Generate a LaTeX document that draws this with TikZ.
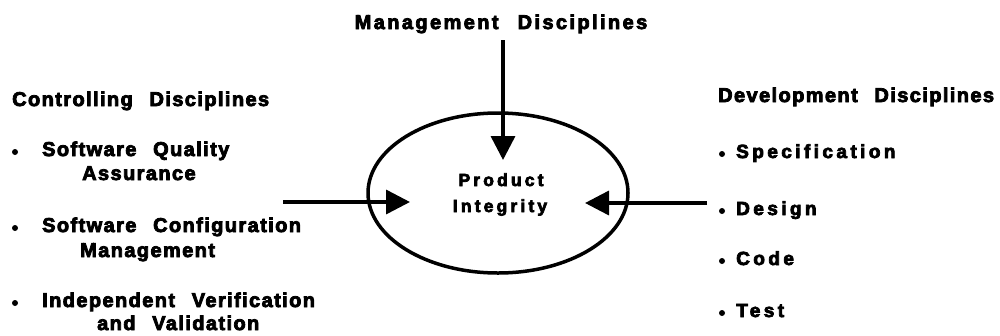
\documentclass[tikz,border=0pt]{standalone}
\usepackage{fontspec}
\setmainfont{Liberation Sans Bold}[LetterSpace=7, WordSpace=2.4, FakeBold=4]
\newfontfamily\mgmtfont{Liberation Sans Bold}[LetterSpace=12, WordSpace=2.4, FakeBold=4]
\newfontfamily\widefont{Liberation Sans Bold}[LetterSpace=18, WordSpace=2, FakeBold=4]
\usetikzlibrary{arrows.meta,shapes.geometric}
\tikzset{
  txt/.style={anchor=base west, inner sep=0pt, font=\fontsize{20}{22}\selectfont},
  wtxt/.style={anchor=base west, inner sep=0pt, font=\fontsize{19}{22}\selectfont\widefont},
  ctxt/.style={anchor=base, inner sep=0pt, font=\fontsize{17.5}{20}\selectfont\widefont},
  dot/.style={circle, fill=black, inner sep=0pt, minimum size=6pt},
  arr/.style={line width=3.5pt, -{Triangle[length=24pt,width=24pt]}},
}
\begin{document}
\begin{tikzpicture}[x=1pt,y=-1pt]
\useasboundingbox (0,0) rectangle (1000,335);
% ellipse
\node[draw, line width=3.5pt, ellipse, minimum width=260pt, minimum height=160pt, inner sep=0pt] (core) at (498,193) {};
\node[ctxt] (prod) at (501,186) {Product};
\node[ctxt] (integ) at (500,212) {Integrity};
% management
\node[anchor=base, inner sep=0pt, font=\fontsize{20}{22}\selectfont\mgmtfont] (mgmt) at (501,29) {Management Disciplines};
\coordinate (mtail) at (503,40);
\coordinate (mtip) at (503,160);
\draw[arr] (mtail) -- (mtip);
% controlling
\node[txt] (ctl) at (12,106) {Controlling Disciplines};
\node[dot] (b1) at (15,152) {};
\node[txt] (sqa1) at (42,156) {Software Quality};
\node[txt] (sqa2) at (82,180) {Assurance};
\node[dot] (b2) at (15,228) {};
\node[txt] (scm1) at (42,232) {Software Configuration};
\node[txt] (scm2) at (80,257) {Management};
\node[dot] (b3) at (15,303) {};
\node[txt] (ivv1) at (42,307) {Independent Verification};
\node[txt] (ivv2) at (97,330) {and Validation};
\coordinate (ltail) at (283,202);
\coordinate (ltip) at (410,202);
\draw[arr] (ltail) -- (ltip);
% development
\node[txt] (dev) at (718,102) {Development Disciplines};
\node[dot] (d1) at (722,154) {};
\node[wtxt] (spec) at (736,158) {Specification};
\node[dot] (d2) at (722,211) {};
\node[wtxt] (des) at (736,215) {Design};
\node[dot] (d3) at (722,261) {};
\node[wtxt] (code) at (736,265) {Code};
\node[dot] (d4) at (722,313) {};
\node[wtxt] (test) at (736,317) {Test};
\coordinate (rtail) at (707,203);
\coordinate (rtip) at (585,203);
\draw[arr] (rtail) -- (rtip);
\end{tikzpicture}
\end{document}
